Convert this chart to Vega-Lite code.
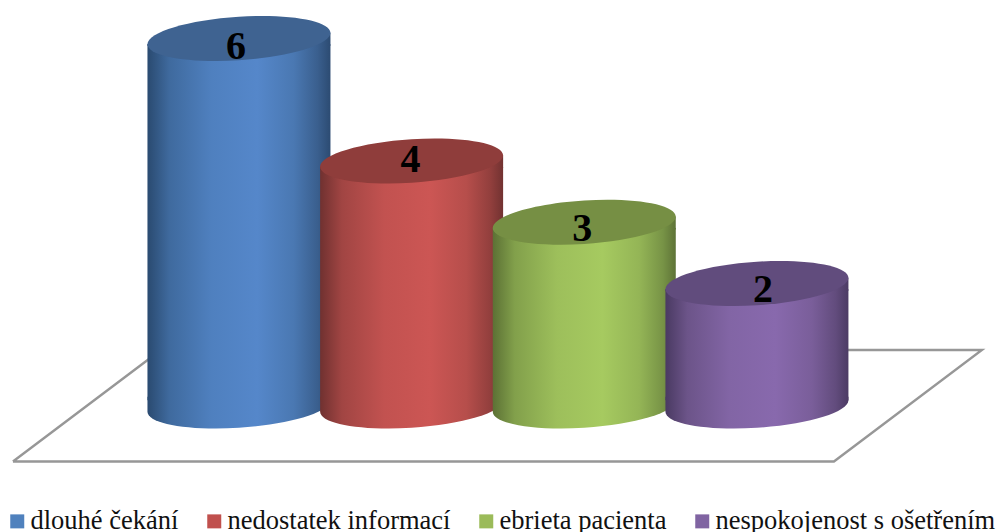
{
  "$schema": "https://vega.github.io/schema/vega-lite/v6.json",
  "width": 999,
  "height": 532,
  "padding": 0,
  "autosize": "none",
  "background": "white",
  "config": {"view": {"stroke": null}},
  "data": {"name": "reasons", "values": [
    {"reason": "dlouhé čekání", "pos": 1, "value": 6},
    {"reason": "nedostatek informací", "pos": 2, "value": 4},
    {"reason": "ebrieta pacienta", "pos": 3, "value": 3},
    {"reason": "nespokojenost s ošetřením", "pos": 4, "value": 2}
  ]},
  "encoding": {
    "x": {"field": "pos", "type": "quantitative", "axis": null, "scale": {"domain": [-0.384, 5.402], "nice": false, "zero": false, "padding": 0}}
  },
  "layer": [
    {
      "description": "Floor plane behind the cylinders",
      "data": {"values": [
        {"corner": 1, "pos": -0.309, "level": -0.906},
        {"corner": 2, "pos": 4.446, "level": -0.906},
        {"corner": 3, "pos": 5.303, "level": 0.914},
        {"corner": 4, "pos": 0.548, "level": 0.914},
        {"corner": 5, "pos": -0.309, "level": -0.906}
      ]},
      "mark": {"type": "line", "color": "#979797", "strokeWidth": 2.4, "strokeJoin": "miter"},
      "encoding": {
        "y": {"field": "level", "type": "quantitative", "axis": null, "scale": {"domain": [-2.057, 6.629], "nice": false, "zero": false}},
        "order": {"field": "corner", "type": "quantitative"}
      }
    },
    {
      "description": "Solid series colours that feed the legend, hidden behind the walls",
      "mark": {"type": "point", "filled": true, "opacity": 1, "size": 100, "shape": "square"},
      "encoding": {
        "y": {"datum": 1, "type": "quantitative", "axis": null},
        "color": {
          "field": "reason",
          "type": "nominal",
          "scale": {
            "domain": ["dlouhé čekání", "nedostatek informací", "ebrieta pacienta", "nespokojenost s ošetřením"],
            "range": ["#4f81bd", "#c0504d", "#9bbb59", "#8064a2"]
          },
          "legend": {
            "title": null,
            "orient": "none",
            "legendX": 4,
            "legendY": 508,
            "padding": 0,
            "direction": "horizontal",
            "columns": 4,
            "columnPadding": 22,
            "symbolType": "square",
            "symbolSize": 196,
            "symbolOpacity": 1,
            "symbolStrokeWidth": 0,
            "labelFont": "Liberation Serif",
            "labelFontSize": 26.5,
            "labelColor": "#111111",
            "labelOffset": 0,
            "labelLimit": 400
          }
        }
      }
    },
    {
      "description": "Blue cylinder",
      "transform": [{"filter": "datum.pos === 1"}],
      "layer": [
        {
          "mark": {"type": "point", "filled": true, "opacity": 1, "strokeWidth": 0, "size": 33489, "shape": "M-1,-0.1L-1,0.062C-1,0.193,-0.552,0.272,0,0.238C0.552,0.204,1,0.069,1,-0.062L1,-0.1Z",
            "fill": {"gradient": "linear", "x1": 0, "x2": 1, "y1": 0, "y2": 0, "stops": [{"offset": 0, "color": "#2a4a70"}, {"offset": 0.12, "color": "#3f6a9e"}, {"offset": 0.35, "color": "#4f80bf"}, {"offset": 0.6, "color": "#5587ca"}, {"offset": 0.8, "color": "#4a78b2"}, {"offset": 0.93, "color": "#3a5f8e"}, {"offset": 1, "color": "#2c4b72"}]}},
          "encoding": {"y": {"datum": 0, "type": "quantitative", "axis": null}}
        },
        {
          "mark": {"type": "bar", "size": 183, "yOffset": 5.67,
            "fill": {"gradient": "linear", "x1": 0, "x2": 1, "y1": 0, "y2": 0, "stops": [{"offset": 0, "color": "#2a4a70"}, {"offset": 0.12, "color": "#3f6a9e"}, {"offset": 0.35, "color": "#4f80bf"}, {"offset": 0.6, "color": "#5587ca"}, {"offset": 0.8, "color": "#4a78b2"}, {"offset": 0.93, "color": "#3a5f8e"}, {"offset": 1, "color": "#2c4b72"}]}},
          "encoding": {"y": {"field": "value", "type": "quantitative", "axis": null}, "y2": {"datum": 0.0926}}
        },
        {
          "mark": {"type": "point", "filled": true, "opacity": 1, "strokeWidth": 0, "size": 33489, "shape": "M-1,0.062L1,-0.062L1,0.08L-1,0.08Z",
            "fill": {"gradient": "linear", "x1": 0, "x2": 1, "y1": 0, "y2": 0, "stops": [{"offset": 0, "color": "#2a4a70"}, {"offset": 0.12, "color": "#3f6a9e"}, {"offset": 0.35, "color": "#4f80bf"}, {"offset": 0.6, "color": "#5587ca"}, {"offset": 0.8, "color": "#4a78b2"}, {"offset": 0.93, "color": "#3a5f8e"}, {"offset": 1, "color": "#2c4b72"}]}},
          "encoding": {"y": {"field": "value", "type": "quantitative", "axis": null}}
        },
        {
          "mark": {"type": "point", "filled": true, "opacity": 1, "strokeWidth": 0, "size": 33489, "fill": "#3f6391", "shape": "M1,-0.062C1,0.069,0.552,0.204,0,0.238C-0.552,0.272,-1,0.193,-1,0.062C-1,-0.069,-0.552,-0.204,0,-0.238C0.552,-0.272,1,-0.193,1,-0.062Z"},
          "encoding": {"y": {"field": "value", "type": "quantitative", "axis": null}}
        },
        {
          "mark": {"type": "text", "font": "Liberation Serif", "fontWeight": "bold", "fontSize": 40, "color": "#000000", "baseline": "alphabetic", "align": "center", "dx": -3, "dy": 20},
          "encoding": {"y": {"field": "value", "type": "quantitative", "axis": null}, "text": {"field": "value", "type": "quantitative"}}
        }
      ]
    },
    {
      "description": "Red cylinder",
      "transform": [{"filter": "datum.pos === 2"}],
      "layer": [
        {
          "mark": {"type": "point", "filled": true, "opacity": 1, "strokeWidth": 0, "size": 33489, "shape": "M-1,-0.1L-1,0.062C-1,0.193,-0.552,0.272,0,0.238C0.552,0.204,1,0.069,1,-0.062L1,-0.1Z",
            "fill": {"gradient": "linear", "x1": 0, "x2": 1, "y1": 0, "y2": 0, "stops": [{"offset": 0, "color": "#703130"}, {"offset": 0.12, "color": "#a14543"}, {"offset": 0.35, "color": "#c25250"}, {"offset": 0.6, "color": "#cc5654"}, {"offset": 0.8, "color": "#b64e4b"}, {"offset": 0.93, "color": "#923f3d"}, {"offset": 1, "color": "#723231"}]}},
          "encoding": {"y": {"datum": 0, "type": "quantitative", "axis": null}}
        },
        {
          "mark": {"type": "bar", "size": 183, "yOffset": 5.67,
            "fill": {"gradient": "linear", "x1": 0, "x2": 1, "y1": 0, "y2": 0, "stops": [{"offset": 0, "color": "#703130"}, {"offset": 0.12, "color": "#a14543"}, {"offset": 0.35, "color": "#c25250"}, {"offset": 0.6, "color": "#cc5654"}, {"offset": 0.8, "color": "#b64e4b"}, {"offset": 0.93, "color": "#923f3d"}, {"offset": 1, "color": "#723231"}]}},
          "encoding": {"y": {"field": "value", "type": "quantitative", "axis": null}, "y2": {"datum": 0.0926}}
        },
        {
          "mark": {"type": "point", "filled": true, "opacity": 1, "strokeWidth": 0, "size": 33489, "shape": "M-1,0.062L1,-0.062L1,0.08L-1,0.08Z",
            "fill": {"gradient": "linear", "x1": 0, "x2": 1, "y1": 0, "y2": 0, "stops": [{"offset": 0, "color": "#703130"}, {"offset": 0.12, "color": "#a14543"}, {"offset": 0.35, "color": "#c25250"}, {"offset": 0.6, "color": "#cc5654"}, {"offset": 0.8, "color": "#b64e4b"}, {"offset": 0.93, "color": "#923f3d"}, {"offset": 1, "color": "#723231"}]}},
          "encoding": {"y": {"field": "value", "type": "quantitative", "axis": null}}
        },
        {
          "mark": {"type": "point", "filled": true, "opacity": 1, "strokeWidth": 0, "size": 33489, "fill": "#8f3d3b", "shape": "M1,-0.062C1,0.069,0.552,0.204,0,0.238C-0.552,0.272,-1,0.193,-1,0.062C-1,-0.069,-0.552,-0.204,0,-0.238C0.552,-0.272,1,-0.193,1,-0.062Z"},
          "encoding": {"y": {"field": "value", "type": "quantitative", "axis": null}}
        },
        {
          "mark": {"type": "text", "font": "Liberation Serif", "fontWeight": "bold", "fontSize": 40, "color": "#000000", "baseline": "alphabetic", "align": "center", "dx": -1, "dy": 11},
          "encoding": {"y": {"field": "value", "type": "quantitative", "axis": null}, "text": {"field": "value", "type": "quantitative"}}
        }
      ]
    },
    {
      "description": "Green cylinder",
      "transform": [{"filter": "datum.pos === 3"}],
      "layer": [
        {
          "mark": {"type": "point", "filled": true, "opacity": 1, "strokeWidth": 0, "size": 33489, "shape": "M-1,-0.1L-1,0.062C-1,0.193,-0.552,0.272,0,0.238C0.552,0.204,1,0.069,1,-0.062L1,-0.1Z",
            "fill": {"gradient": "linear", "x1": 0, "x2": 1, "y1": 0, "y2": 0, "stops": [{"offset": 0, "color": "#5c7135"}, {"offset": 0.12, "color": "#82a04b"}, {"offset": 0.35, "color": "#9dbf5b"}, {"offset": 0.6, "color": "#a6ca60"}, {"offset": 0.8, "color": "#94b556"}, {"offset": 0.93, "color": "#779346"}, {"offset": 1, "color": "#5e7337"}]}},
          "encoding": {"y": {"datum": 0, "type": "quantitative", "axis": null}}
        },
        {
          "mark": {"type": "bar", "size": 183, "yOffset": 5.67,
            "fill": {"gradient": "linear", "x1": 0, "x2": 1, "y1": 0, "y2": 0, "stops": [{"offset": 0, "color": "#5c7135"}, {"offset": 0.12, "color": "#82a04b"}, {"offset": 0.35, "color": "#9dbf5b"}, {"offset": 0.6, "color": "#a6ca60"}, {"offset": 0.8, "color": "#94b556"}, {"offset": 0.93, "color": "#779346"}, {"offset": 1, "color": "#5e7337"}]}},
          "encoding": {"y": {"field": "value", "type": "quantitative", "axis": null}, "y2": {"datum": 0.0926}}
        },
        {
          "mark": {"type": "point", "filled": true, "opacity": 1, "strokeWidth": 0, "size": 33489, "shape": "M-1,0.062L1,-0.062L1,0.08L-1,0.08Z",
            "fill": {"gradient": "linear", "x1": 0, "x2": 1, "y1": 0, "y2": 0, "stops": [{"offset": 0, "color": "#5c7135"}, {"offset": 0.12, "color": "#82a04b"}, {"offset": 0.35, "color": "#9dbf5b"}, {"offset": 0.6, "color": "#a6ca60"}, {"offset": 0.8, "color": "#94b556"}, {"offset": 0.93, "color": "#779346"}, {"offset": 1, "color": "#5e7337"}]}},
          "encoding": {"y": {"field": "value", "type": "quantitative", "axis": null}}
        },
        {
          "mark": {"type": "point", "filled": true, "opacity": 1, "strokeWidth": 0, "size": 33489, "fill": "#768f44", "shape": "M1,-0.062C1,0.069,0.552,0.204,0,0.238C-0.552,0.272,-1,0.193,-1,0.062C-1,-0.069,-0.552,-0.204,0,-0.238C0.552,-0.272,1,-0.193,1,-0.062Z"},
          "encoding": {"y": {"field": "value", "type": "quantitative", "axis": null}}
        },
        {
          "mark": {"type": "text", "font": "Liberation Serif", "fontWeight": "bold", "fontSize": 40, "color": "#000000", "baseline": "alphabetic", "align": "center", "dx": -2, "dy": 18.5},
          "encoding": {"y": {"field": "value", "type": "quantitative", "axis": null}, "text": {"field": "value", "type": "quantitative"}}
        }
      ]
    },
    {
      "description": "Purple cylinder",
      "transform": [{"filter": "datum.pos === 4"}],
      "layer": [
        {
          "mark": {"type": "point", "filled": true, "opacity": 1, "strokeWidth": 0, "size": 33489, "shape": "M-1,-0.1L-1,0.062C-1,0.193,-0.552,0.272,0,0.238C0.552,0.204,1,0.069,1,-0.062L1,-0.1Z",
            "fill": {"gradient": "linear", "x1": 0, "x2": 1, "y1": 0, "y2": 0, "stops": [{"offset": 0, "color": "#4a3a62"}, {"offset": 0.12, "color": "#6c5489"}, {"offset": 0.35, "color": "#8265a5"}, {"offset": 0.6, "color": "#8869ad"}, {"offset": 0.8, "color": "#7a5e9a"}, {"offset": 0.93, "color": "#624c7d"}, {"offset": 1, "color": "#4c3b64"}]}},
          "encoding": {"y": {"datum": 0, "type": "quantitative", "axis": null}}
        },
        {
          "mark": {"type": "bar", "size": 183, "yOffset": 5.67,
            "fill": {"gradient": "linear", "x1": 0, "x2": 1, "y1": 0, "y2": 0, "stops": [{"offset": 0, "color": "#4a3a62"}, {"offset": 0.12, "color": "#6c5489"}, {"offset": 0.35, "color": "#8265a5"}, {"offset": 0.6, "color": "#8869ad"}, {"offset": 0.8, "color": "#7a5e9a"}, {"offset": 0.93, "color": "#624c7d"}, {"offset": 1, "color": "#4c3b64"}]}},
          "encoding": {"y": {"field": "value", "type": "quantitative", "axis": null}, "y2": {"datum": 0.0926}}
        },
        {
          "mark": {"type": "point", "filled": true, "opacity": 1, "strokeWidth": 0, "size": 33489, "shape": "M-1,0.062L1,-0.062L1,0.08L-1,0.08Z",
            "fill": {"gradient": "linear", "x1": 0, "x2": 1, "y1": 0, "y2": 0, "stops": [{"offset": 0, "color": "#4a3a62"}, {"offset": 0.12, "color": "#6c5489"}, {"offset": 0.35, "color": "#8265a5"}, {"offset": 0.6, "color": "#8869ad"}, {"offset": 0.8, "color": "#7a5e9a"}, {"offset": 0.93, "color": "#624c7d"}, {"offset": 1, "color": "#4c3b64"}]}},
          "encoding": {"y": {"field": "value", "type": "quantitative", "axis": null}}
        },
        {
          "mark": {"type": "point", "filled": true, "opacity": 1, "strokeWidth": 0, "size": 33489, "fill": "#614c7d", "shape": "M1,-0.062C1,0.069,0.552,0.204,0,0.238C-0.552,0.272,-1,0.193,-1,0.062C-1,-0.069,-0.552,-0.204,0,-0.238C0.552,-0.272,1,-0.193,1,-0.062Z"},
          "encoding": {"y": {"field": "value", "type": "quantitative", "axis": null}}
        },
        {
          "mark": {"type": "text", "font": "Liberation Serif", "fontWeight": "bold", "fontSize": 40, "color": "#000000", "baseline": "alphabetic", "align": "center", "dx": 6, "dy": 18},
          "encoding": {"y": {"field": "value", "type": "quantitative", "axis": null}, "text": {"field": "value", "type": "quantitative"}}
        }
      ]
    }
  ]
}
